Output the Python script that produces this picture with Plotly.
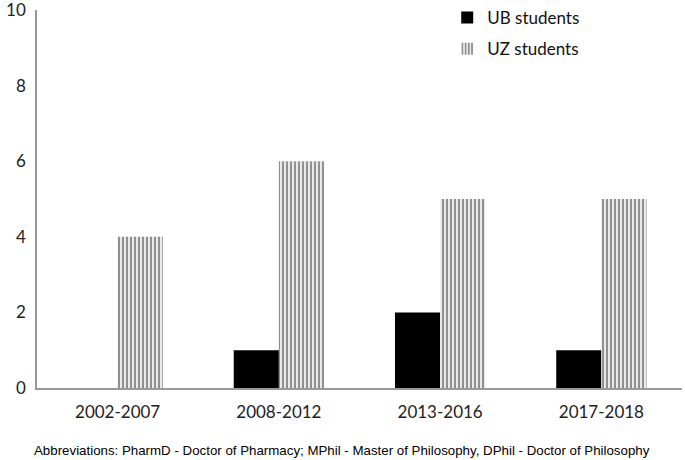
import plotly.graph_objects as go

categories = ["2002-2007", "2008-2012", "2013-2016", "2017-2018"]
ub_students = [0, 1, 2, 1]
uz_students = [4, 6, 5, 5]
y_ticks = [0, 2, 4, 6, 8, 10]
caption = "Abbreviations: PharmD - Doctor of Pharmacy; MPhil - Master of Philosophy, DPhil - Doctor of Philosophy"

fig = go.Figure()
fig.add_trace(go.Bar(
    x=categories, y=ub_students, name="UB students", legendgroup="ub",
    marker=dict(color="black", line=dict(width=0)),
))
fig.add_trace(go.Bar(
    x=categories, y=uz_students, name="UZ students", legendgroup="uz",
    marker=dict(color="white", line=dict(width=0),
                pattern=dict(shape="|", size=4, solidity=0.6,
                             fgcolor="#222222", bgcolor="white", fillmode="overlay")),
))

fig.update_layout(
    width=685, height=460,
    margin=dict(l=37, r=3, t=10, b=72, autoexpand=False),
    paper_bgcolor="white", plot_bgcolor="white",
    barmode="group", bargap=0.44, bargroupgap=0,
    font=dict(family="Lato", size=17, color="#222222"),
    showlegend=True,
    legend=dict(x=0.636, y=1.0, yref="container", xanchor="left", yanchor="top",
                traceorder="grouped", tracegroupgap=6,
                font=dict(family="Lato", size=17, color="#111111"),
                bgcolor="rgba(0,0,0,0)", itemwidth=30),
    xaxis=dict(showline=True, linecolor="#999999", linewidth=1.5,
               showgrid=False, ticks="", ticklabelstandoff=8,
               automargin=False, ticklabeloverflow="allow",
               tickfont=dict(family="Lato", size=17, color="#222222")),
    yaxis=dict(range=[0, 10], tickvals=y_ticks, showline=True,
               linecolor="#999999", linewidth=1.5, showgrid=False,
               zeroline=False, ticks="", ticklabelstandoff=6,
               automargin=False, ticklabeloverflow="allow",
               tickfont=dict(family="Lato", size=17, color="#222222")),
    annotations=[dict(text=caption, xref="paper", yref="paper",
                      x=0.473, y=-0.165, xanchor="center", yanchor="middle",
                      showarrow=False,
                      font=dict(family="Liberation Sans", size=13.3, color="black"))],
)

fig.write_html("out.html", config={"displayModeBar": False},
               post_script="document.body.style.margin='0';")
